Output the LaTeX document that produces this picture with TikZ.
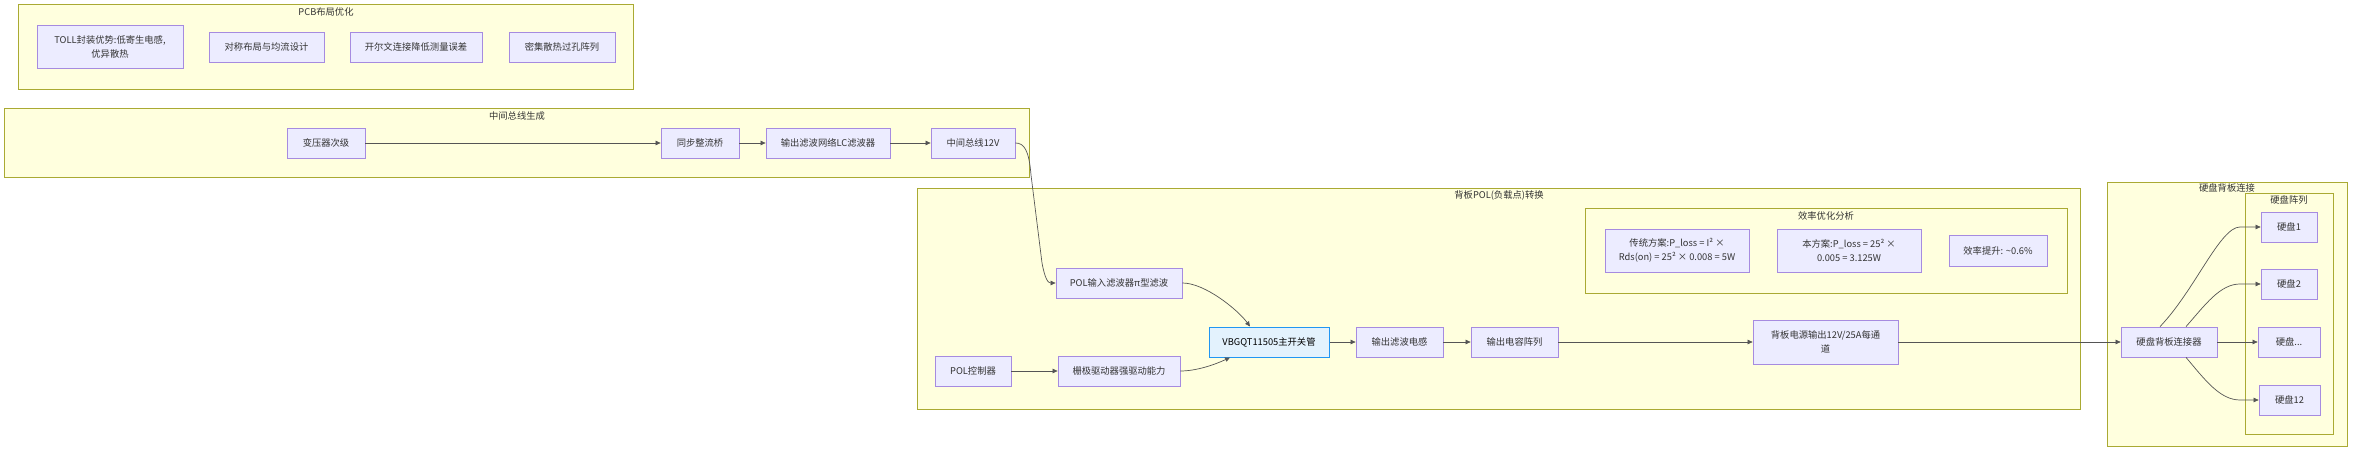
\documentclass[tikz,border=0pt]{standalone}
\usepackage{fontspec}
\setmainfont{Noto Sans CJK SC}
\usetikzlibrary{arrows.meta}
\definecolor{clfill}{HTML}{FFFFDE}
\definecolor{cldraw}{HTML}{AAAA33}
\definecolor{nfill}{HTML}{ECECFF}
\definecolor{ndraw}{HTML}{A68BE0}
\definecolor{mfill}{HTML}{E3F2FD}
\definecolor{mdraw}{HTML}{2196F3}
\definecolor{lncol}{HTML}{555555}
\definecolor{txcol}{HTML}{333333}
\begin{document}
\begin{tikzpicture}[x=1pt,y=-1pt,
  cluster/.style={draw=cldraw, fill=clfill, line width=0.8pt},
  ctitle/.style={inner sep=0pt, text=txcol, font=\fontsize{9.3}{12}\selectfont},
  nbox/.style={draw=ndraw, fill=nfill, line width=0.8pt, inner sep=0pt, text=txcol, align=center, font=\fontsize{9.3}{14}\selectfont, minimum height=30pt},
  mbox/.style={nbox, draw=mdraw, fill=mfill, line width=1pt, text=black},
  arr/.style={draw=lncol, line width=0.7pt, -{Triangle[length=5pt,width=4.5pt]}},
]
\fill[white] (0,0) rectangle (2368,454);
\useasboundingbox (0,0) rectangle (2368,454);

% clusters
\draw[cluster] (18,4) rectangle (633,89);
\node[ctitle] (tpcb) at (326,11.5) {PCB布局优化};
\draw[cluster] (4,108) rectangle (1029,177);
\node[ctitle] (tbus) at (517,115.5) {中间总线生成};
\draw[cluster] (917,188) rectangle (2080,409);
\node[ctitle] (tpol) at (1499,195.5) {背板POL(负载点)转换};
\draw[cluster] (1585,208) rectangle (2067,293);
\node[ctitle] (teff) at (1826,215.5) {效率优化分析};
\draw[cluster] (2107,182) rectangle (2347,446);
\node[ctitle] (thdd) at (2227,187.5) {硬盘背板连接};
\draw[cluster] (2245,193) rectangle (2333,434);
\node[ctitle] (tarr) at (2289,199.5) {硬盘阵列};

% PCB nodes
\node[nbox, minimum width=146pt, minimum height=43pt] (toll) at (110,46.5) {TOLL封装优势:低寄生电感,\\优异散热};
\node[nbox, minimum width=115pt] (sym) at (266.5,47) {对称布局与均流设计};
\node[nbox, minimum width=132pt] (kelvin) at (416,47) {开尔文连接降低测量误差};
\node[nbox, minimum width=106pt] (via) at (562,47) {密集散热过孔阵列};

% bus nodes
\node[nbox, minimum width=78pt] (trans) at (326,143) {变压器次级};
\node[nbox, minimum width=78pt] (sr) at (700,143) {同步整流桥};
\node[nbox, minimum width=124pt] (lc) at (828,143) {输出滤波网络LC滤波器};
\node[nbox, minimum width=84pt] (bus) at (973,143) {中间总线12V};

% POL nodes
\node[nbox, minimum width=126pt] (polin) at (1119,283) {POL输入滤波器π型滤波};
\node[mbox, minimum width=120pt] (mos) at (1269,342) {VBGQT11505主开关管};
\node[nbox, minimum width=87pt] (ind) at (1399.5,342) {输出滤波电感};
\node[nbox, minimum width=87pt] (cap) at (1514.5,342) {输出电容阵列};
\node[nbox, minimum width=76pt] (ctrl) at (973,371) {POL控制器};
\node[nbox, minimum width=122pt] (drv) at (1119,371) {栅极驱动器强驱动能力};
\node[nbox, minimum width=145pt, minimum height=44pt] (out) at (1825.5,342) {背板电源输出12V/25A每通\\道};

% efficiency nodes
\node[nbox, minimum width=144pt, minimum height=43pt] (trad) at (1677,250.5) {传统方案:P\_loss = I² ×\\Rds(on) = 25² × 0.008 = 5W};
\node[nbox, minimum width=144pt, minimum height=43pt] (ours) at (1849,250.5) {本方案:P\_loss = 25² ×\\0.005 = 3.125W};
\node[nbox, minimum width=98pt, minimum height=31pt] (gain) at (1998,250.5) {效率提升: \textasciitilde0.6\%};

% disk nodes
\node[nbox, minimum width=96pt] (hbc) at (2169,342) {硬盘背板连接器};
\node[nbox, minimum width=56pt] (d1) at (2289,227) {硬盘1};
\node[nbox, minimum width=56pt] (d2) at (2289,284) {硬盘2};
\node[nbox, minimum width=62pt] (dd) at (2289,342) {硬盘...};
\node[nbox, minimum width=61pt] (d12) at (2289.5,400) {硬盘12};

% edges
\draw[arr] (trans) -- (sr);
\draw[arr] (sr) -- (lc);
\draw[arr] (lc) -- (bus);
\draw[arr] (bus.east) .. controls (1024,143) and (1029,150) .. (1031,175)
  -- (1042,263) .. controls (1045,279) and (1048,283) .. (polin.west);
\draw[arr] (polin.east) .. controls (1205,283) and (1238,310) .. ([xshift=-19pt]mos.north);
\draw[arr] (ctrl) -- (drv);
\draw[arr] (drv.east) .. controls (1196,371) and (1214,365) .. ([xshift=-39pt]mos.south);
\draw[arr] (mos) -- (ind);
\draw[arr] (ind) -- (cap);
\draw[arr] (cap) -- (out);
\draw[arr] (out) -- (hbc);
\draw[arr] ([xshift=-9pt]hbc.north) .. controls (2195,290) and (2220,227) .. (2240,227) -- (d1.west);
\draw[arr] ([xshift=17pt]hbc.north) .. controls (2205,305) and (2220,284) .. (2240,284) -- (d2.west);
\draw[arr] (hbc) -- (dd);
\draw[arr] ([xshift=17pt]hbc.south) .. controls (2205,380) and (2220,400) .. (2240,400) -- (d12.west);
\end{tikzpicture}
\end{document}
